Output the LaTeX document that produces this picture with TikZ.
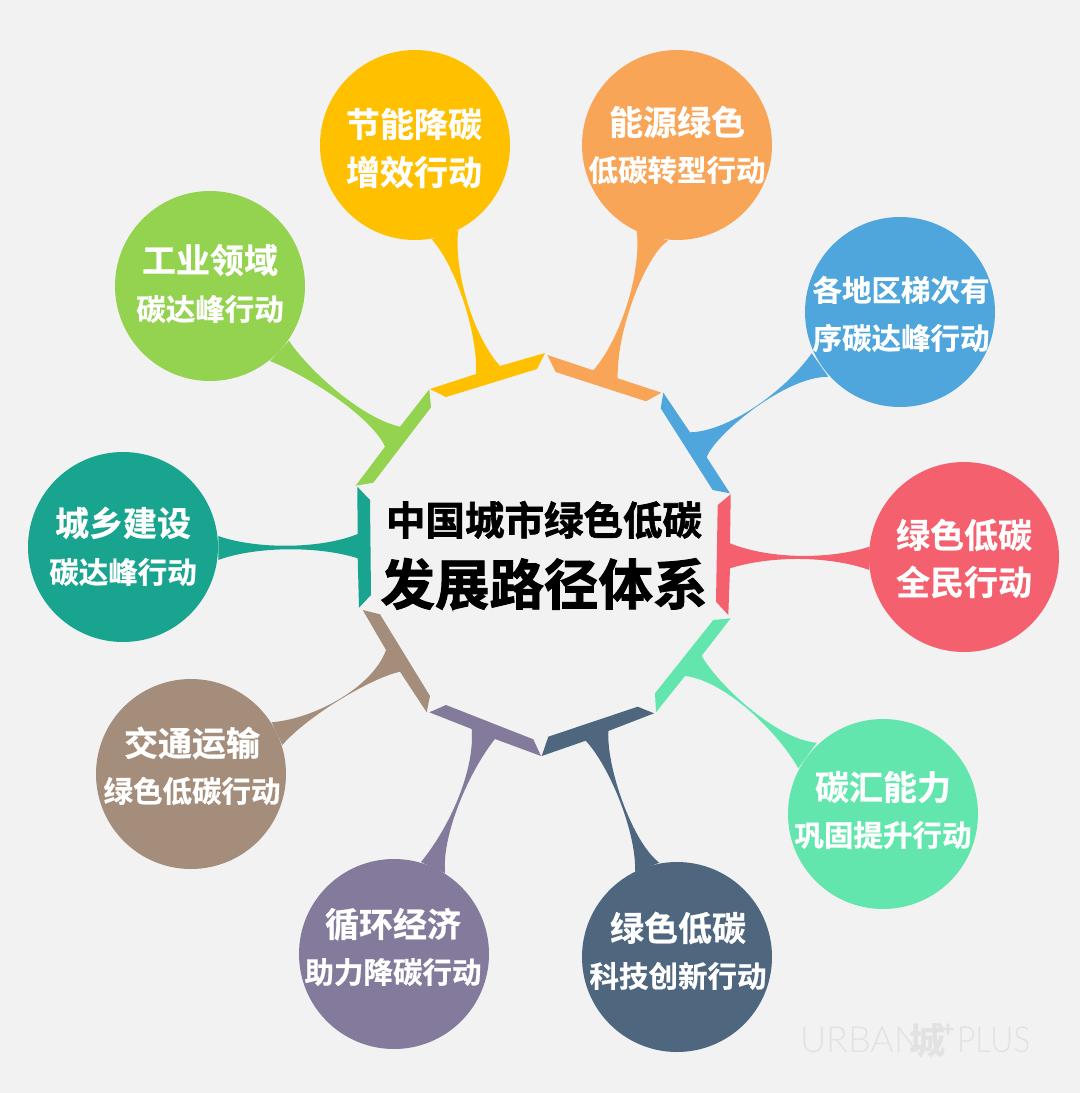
\documentclass[tikz,border=0pt]{standalone}
\usepackage{fontspec}
\setmainfont{Noto Sans CJK SC}
\newfontfamily\cjkb[FakeBold=0.6]{Noto Sans CJK SC Bold}
\newfontfamily\cjkt[FakeBold=1.6]{Noto Sans CJK SC Bold}
\newfontfamily\wmfont{Lato Light}
\definecolor{bgc}{HTML}{F2F2F2}
\definecolor{cyellow}{HTML}{FFC000}
\definecolor{corange}{HTML}{F9A557}
\definecolor{cblue}{HTML}{4EA6DC}
\definecolor{cred}{HTML}{F4606E}
\definecolor{cmint}{HTML}{62E6AE}
\definecolor{cnavy}{HTML}{4E667E}
\definecolor{cpurple}{HTML}{847A9B}
\definecolor{cbrown}{HTML}{A58D7B}
\definecolor{cteal}{HTML}{18A48E}
\definecolor{cgreen}{HTML}{93D350}
\definecolor{wmc}{HTML}{E2E2E2}
\tikzset{
  bubble/.style={circle,minimum size=95pt,inner sep=0pt,outer sep=0pt,fill=#1},
  lbl/.style={inner sep=0pt,outer sep=0pt,text=white,text height={0.88*#1 pt},text depth={0.12*#1 pt},font=\cjkb\fontsize{#1}{#1}\selectfont},
  ttl/.style={inner sep=0pt,outer sep=0pt,text=black,text height={0.88*#1 pt},text depth={0.12*#1 pt},font=\cjkt\fontsize{#1}{#1}\selectfont},
  wm/.style={inner sep=0pt,outer sep=0pt,text=wmc,anchor=base west}
}
\begin{document}
\begin{tikzpicture}[x=0.5pt,y=-0.5pt]
\useasboundingbox (0,0) rectangle (1080,1093);
\fill[bgc] (0,0) rectangle (1080,1093);
% ring segments with tails
\fill[cyellow] (430,389) -- (476,374) .. controls (478.3,336.7) and (456.7,266.7) .. (431.7,239.3) -- (458.3,230) .. controls (453.3,270) and (473.3,336.7) .. (500,366) -- (545,353) -- (537,369) -- (446,397) -- cycle;
\fill[corange] (547.3,355) -- (593.3,370.3) .. controls (620,340) and (641.7,273.3) .. (636.7,230.7) -- (668.3,240.7) .. controls (650,250) and (616.7,323.3) .. (617.7,378.3) -- (661.5,392.7) -- (646,401.3) -- (555.7,372) -- cycle;
\fill[cblue] (663.3,392.7) -- (690,432.3) .. controls (726.7,431.7) and (783.3,393.3) .. (811.7,353.3) -- (828.3,376.7) .. controls (783.3,376.7) and (713.3,436.7) .. (706.7,457.3) -- (730,493.3) -- (712.7,490) -- (660.7,408.3) -- cycle;
\fill[cred] (730.7,494.3) -- (730,543.3) .. controls (770,559.5) and (830,559.5) .. (869.3,546.7) -- (869.3,570) .. controls (830,555.6) and (770,555.6) .. (730,568.3) -- (728.3,615) -- (716,601.7) -- (717.7,505) -- cycle;
\fill[cmint] (730.7,618.3) -- (701.7,655.7) .. controls (716.7,683.3) and (776.7,740) .. (816.7,742.7) -- (798.3,768.3) .. controls (776.7,730) and (723.3,680) .. (685,676) -- (656,712.3) -- (655,693.3) -- (713.3,620) -- cycle;
\fill[cnavy] (541.7,756) -- (585.7,740.7) .. controls (610,766.7) and (636.7,833.3) .. (635,871.7) -- (659.3,862.7) .. controls (633.3,843.3) and (606.7,770) .. (608.3,731) -- (654,713.3) -- (637.7,706.7) -- (548.3,736.7) -- cycle;
\fill[cpurple] (429.3,712.3) -- (471.7,729) .. controls (475,770) and (450,826.7) .. (421,862) -- (445,873.3) .. controls (441.7,833.3) and (470,770) .. (495,739) -- (541,756) -- (533.3,739.3) -- (446,705) -- cycle;
\fill[cbrown] (362.7,610) -- (386,650) .. controls (373.3,686) and (316.7,718.3) .. (271.7,722.3) -- (282.3,745) .. controls (306.7,716.7) and (370,678.3) .. (400,671.7) -- (426.7,712.3) -- (430,696) -- (380,614.3) -- cycle;
\fill[cteal] (357.3,486.7) -- (357.7,534) .. controls (320,549.3) and (256,549.3) .. (218.3,536) -- (218.3,560) .. controls (256,546) and (320,546) .. (357.7,558.3) -- (359,607.7) -- (371,595) -- (370,500) -- cycle;
\fill[cgreen] (429.3,389.3) -- (431,407.3) -- (373.3,482.7) -- (355.7,485.7) -- (385,446.7) .. controls (373.3,420) and (316.7,380) .. (270,361) -- (289,340.7) .. controls (303.3,363.3) and (356.7,416.7) .. (400,426.7) -- cycle;
% circles
\node[bubble=cyellow] (c1) at (415,145) {};
\node[bubble=corange] (c2) at (677,145) {};
\node[bubble=cblue] (c3) at (900,312) {};
\node[bubble=cred] (c4) at (964,557) {};
\node[bubble=cmint] (c5) at (883,814) {};
\node[bubble=cnavy] (c6) at (677,957) {};
\node[bubble=cpurple] (c7) at (394,954) {};
\node[bubble=cbrown] (c8) at (191,774) {};
\node[bubble=cteal] (c9) at (123,547) {};
\node[bubble=cgreen] (c10) at (210,286) {};
% labels
\node[lbl=17] (t1a) at (414,124) {节能降碳};
\node[lbl=17] (t1b) at (414,172) {增效行动};
\node[lbl=17] (t2a) at (677,122) {能源绿色};
\node[lbl=14.75] (t2b) at (677,170) {低碳转型行动};
\node[lbl=14.75] (t3a) at (901,290) {各地区梯次有};
\node[lbl=14.75] (t3b) at (901,338) {序碳达峰行动};
\node[lbl=17] (t4a) at (964,535) {绿色低碳};
\node[lbl=17] (t4b) at (964,582) {全民行动};
\node[lbl=17] (t5a) at (883,787) {碳汇能力};
\node[lbl=14.75] (t5b) at (883,835) {巩固提升行动};
\node[lbl=17] (t6a) at (678,928) {绿色低碳};
\node[lbl=14.75] (t6b) at (678,976) {科技创新行动};
\node[lbl=17] (t7a) at (393,924) {循环经济};
\node[lbl=14.75] (t7b) at (393,972) {助力降碳行动};
\node[lbl=17] (t8a) at (192,743) {交通运输};
\node[lbl=14.75] (t8b) at (192,791) {绿色低碳行动};
\node[lbl=17] (t9a) at (123,523) {城乡建设};
\node[lbl=14.75] (t9b) at (123,572) {碳达峰行动};
\node[lbl=17] (t10a) at (210,260) {工业领域};
\node[lbl=14.75] (t10b) at (210,309) {碳达峰行动};
\node[ttl=19.75] (title1) at (544,520) {中国城市绿色低碳};
\node[ttl=27.25] (title2) at (544,584) {发展路径体系};
% watermark
\node[wm,font=\wmfont\fontsize{18}{18}\selectfont] (w1) at (800,1052) {URBAN};
\node[inner sep=0pt,outer sep=0pt,text=wmc,font=\cjkb\fontsize{18}{18}\selectfont] (w2) at (927,1040) {城};
\node[inner sep=0pt,outer sep=0pt,text=wmc,font=\cjkb\fontsize{10}{10}\selectfont] (w3) at (948,1030) {+};
\node[wm,xscale=0.88,font=\wmfont\fontsize{18}{18}\selectfont] (w4) at (957,1052) {PLUS};
\end{tikzpicture}
\end{document}
